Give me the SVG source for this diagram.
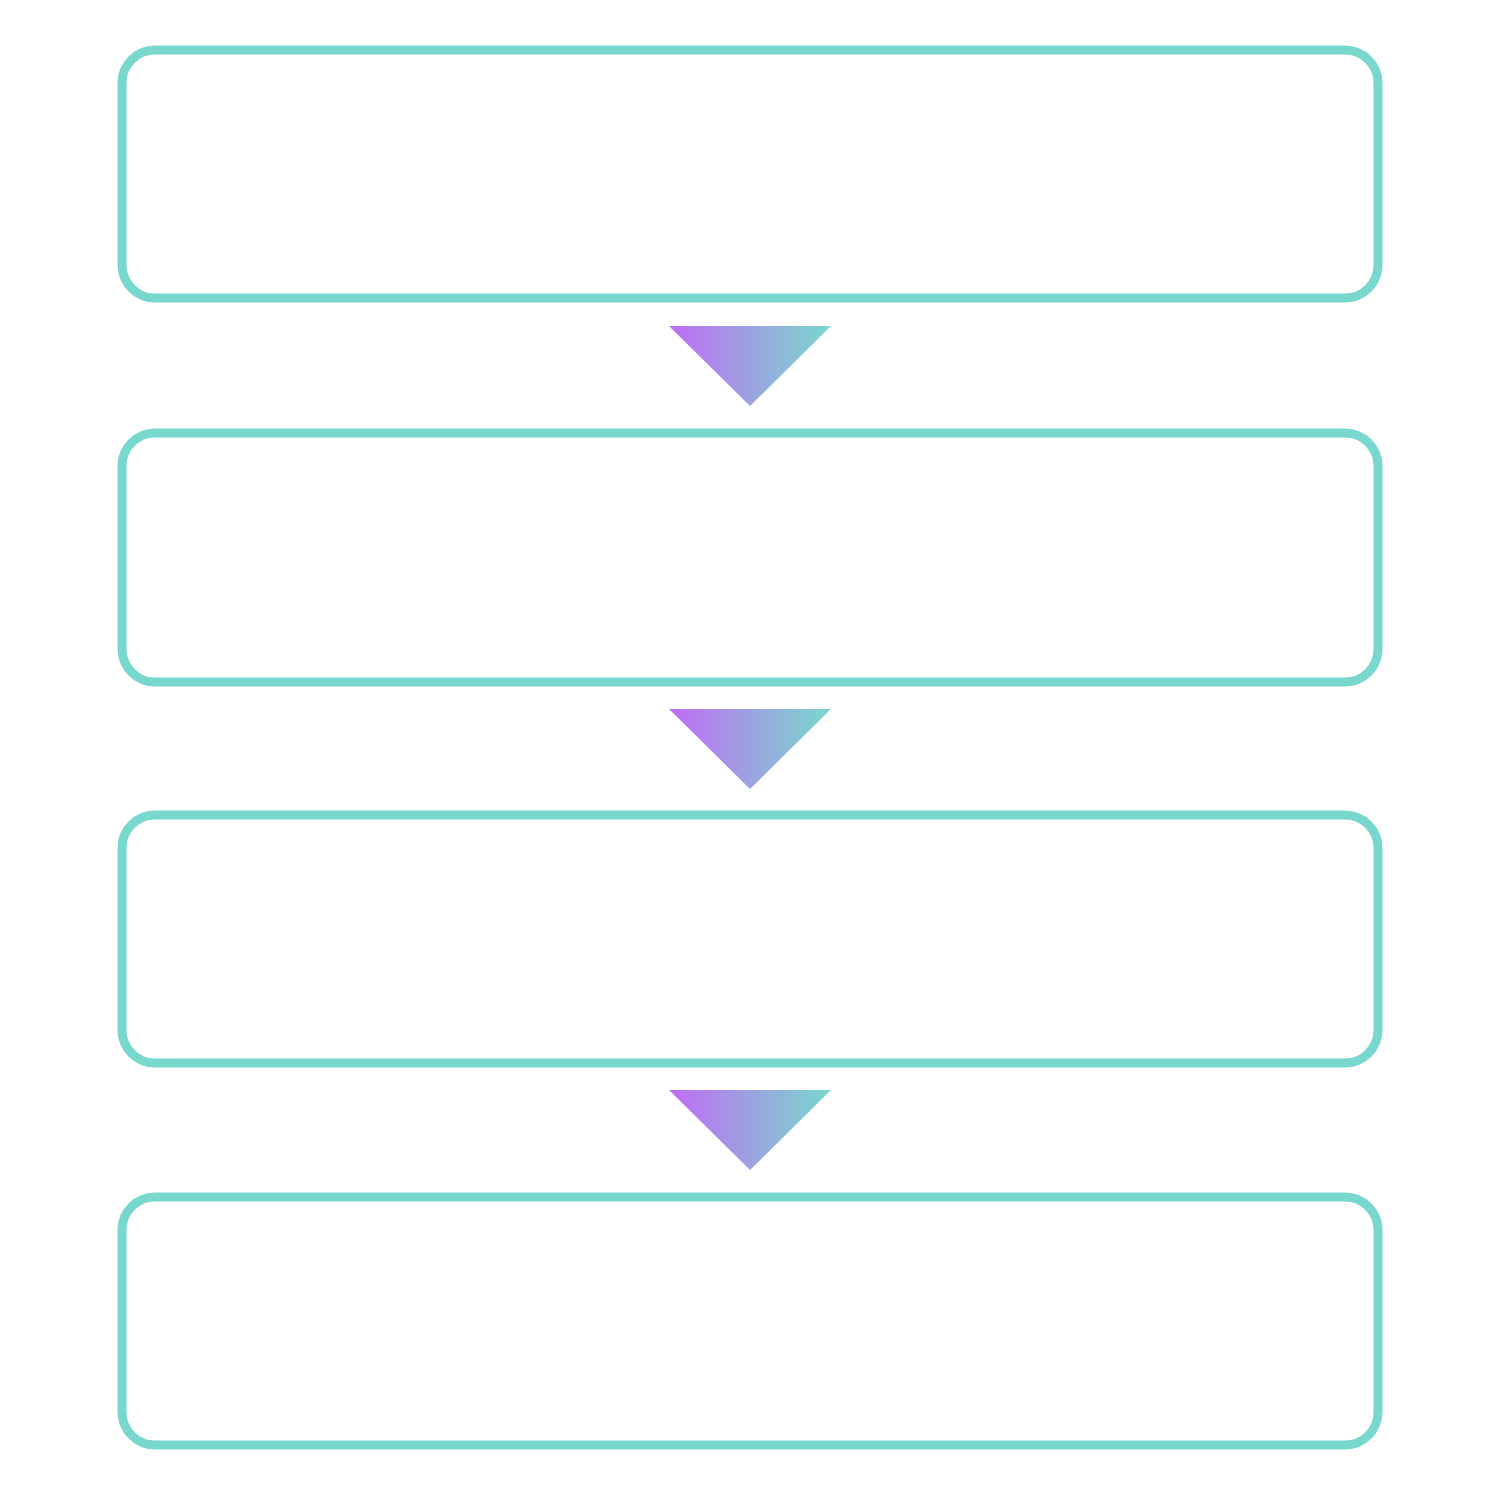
<svg xmlns="http://www.w3.org/2000/svg" width="1500" height="1500" viewBox="0 0 1500 1500">
<style>.box{fill:#fff;stroke:#79d8cd;stroke-width:9}.arr{fill:url(#g)}</style>
<defs><linearGradient id="g" x1="0" x2="1" y1="0" y2="0"><stop offset="0" stop-color="#c06cf5"/><stop offset="1" stop-color="#79d8cd"/></linearGradient></defs>
<rect width="1500" height="1500" fill="#fff"/>
<g id="n1"><rect class="box" x="122" y="50" width="1256" height="248" rx="33"/></g>
<g id="n2"><rect class="box" x="122" y="433" width="1256" height="249" rx="33"/></g>
<g id="n3"><rect class="box" x="122" y="815" width="1256" height="248" rx="33"/></g>
<g id="n4"><rect class="box" x="122" y="1197" width="1256" height="248" rx="33"/></g>
<g id="connectors">
<polygon class="arr" points="669,326 831,326 750,406"/>
<polygon class="arr" points="669,709 831,709 750,789"/>
<polygon class="arr" points="669,1090 831,1090 750,1170"/>
</g>
</svg>
